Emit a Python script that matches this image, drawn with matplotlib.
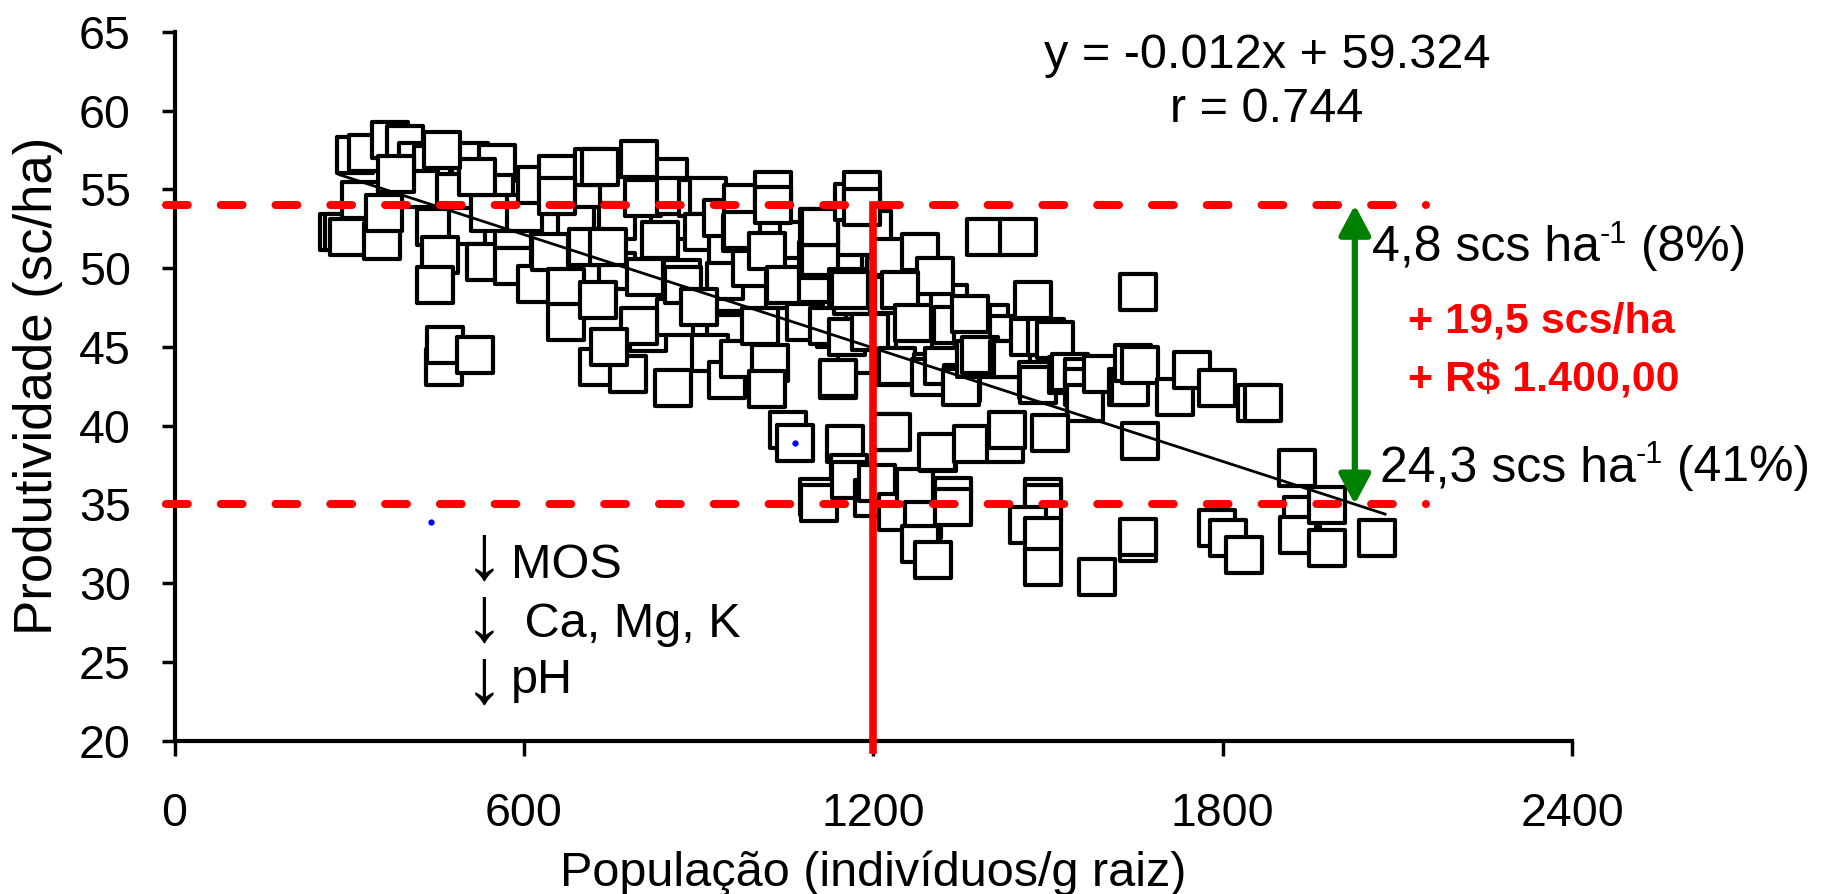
import matplotlib
matplotlib.use("Agg")
import matplotlib.pyplot as plt

plt.rcParams['font.family'] = ['Liberation Sans', 'DejaVu Sans']

# populacao (individuos/g raiz) e produtividade (sc/ha)
pop = [281, 290, 298, 356, 318, 310, 330, 370, 395, 416, 442, 507, 554, 421, 482, 550,
       447, 502, 456, 447, 533, 582, 582, 462, 465, 516,
       600, 690, 760, 620, 700, 760, 850, 540, 520, 460, 380, 360, 620, 700, 850,
       657, 719, 731, 797, 657, 805, 860, 897, 916, 645, 708, 745, 673, 673, 727,
       727, 779, 808, 834, 813, 860, 856, 871, 874, 908, 948, 945, 948, 945, 919,
       948, 969, 797, 746,
       940, 990, 1060, 1130, 1200, 1220, 1280, 1330, 1400, 1420, 1270, 1170, 900,
       1070, 1150, 1170,
       974, 972, 974, 1028, 1028, 1017, 1046, 1049, 1006, 1023, 1017, 1083, 1103,
       1103, 1108, 1105, 1108, 1134, 1123, 1140, 1140, 1155, 1163, 1160, 1166,
       1180, 1180, 1155, 1195,
       1232, 1280, 1306, 1234, 1246, 1269, 1335, 1369, 1366, 1234, 1241, 1300,
       1298, 1320, 1352, 1350, 1375, 1383, 1431, 1438, 1392, 1449, 1475, 1467,
       1496, 1512, 1481, 1483, 1533, 1538, 1561, 1561, 1563, 1593, 1636, 1641,
       1646, 1658, 1654, 1718, 1747, 1790, 1857, 1869,
       1054, 1066, 1152, 1158, 1229, 1232, 1105, 1106, 1160, 1200, 1206, 1240,
       1272, 1286, 1280, 1302, 1311, 1309, 1337, 1337, 1369, 1426, 1430, 1492,
       1492, 1466, 1492, 1492, 1504, 1658, 1584, 1655, 1655, 1790, 1809, 1836,
       1927, 1936, 1930, 1979, 1979, 2065]
prod = [52.3, 52.3, 52.0, 51.7, 54.3, 57.2, 57.3, 58.1, 57.9, 56.8, 56.6, 56.8, 56.7, 55.0, 54.85, 54.75,
        52.6, 52.7, 50.8, 48.9, 50.4, 52.4, 50.1, 43.7, 45.1, 44.5,
        53.5, 53.2, 53.0, 49.0, 49.5, 49.8, 53.0, 53.5, 55.8, 57.5, 56.0, 53.5, 55.3, 55.0, 55.8,
        56.0, 56.4, 56.4, 56.9, 54.6, 54.45, 54.6, 54.45, 54.6, 51.05, 51.35, 51.35, 48.8, 46.6, 48.0,
        43.7, 43.3, 49.4, 51.8, 45.9, 46.9, 42.4, 49.35, 48.9, 52.3, 50.95, 49.2, 46.1, 45.9, 44.6,
        42.9, 44.2, 46.3, 45.0,
        53.2, 50.0, 50.5, 50.0, 52.5, 49.5, 48.0, 47.8, 46.5, 45.8, 45.0, 44.5, 47.5,
        51.8, 50.8, 52.0,
        54.1, 52.2, 52.4, 54.95, 54.0, 51.1, 48.6, 48.9, 46.3, 44.0, 42.3, 46.6, 49.0,
        50.5, 50.7, 52.6, 52.6, 46.1, 46.3, 42.9, 43.0, 48.8, 48.2, 48.6, 54.2,
        54.95, 53.9, 45.65, 45.95,
        50.7, 51.0, 49.5, 48.3, 48.6, 46.5, 46.4, 46.3, 47.1, 43.7, 43.75, 43.4,
        43.1, 43.75, 42.7, 42.45, 44.2, 44.5, 44.2, 44.2, 52.0, 52.0, 48.0, 45.6,
        45.6, 45.4, 42.9, 42.6, 43.2, 43.4, 43.1, 42.45, 41.4, 43.3, 42.45, 42.45,
        44.0, 43.85, 48.5, 41.8, 43.5, 42.4, 41.4, 41.4,
        39.7, 38.9, 38.8, 37.0, 39.6, 39.6, 35.45, 35.1, 36.55, 35.4, 36.35, 34.5,
        36.1, 34.0, 32.5, 31.45, 38.25, 38.3, 35.5, 34.8, 38.8, 38.8, 39.7, 35.45,
        35.1, 33.7, 33.0, 31.0, 39.5, 39.0, 30.4, 32.55, 32.9, 33.5, 32.85, 31.8,
        37.3, 34.3, 33.05, 34.95, 32.2, 32.85]

# pontos azuis isolados
blue_x = [1066, 440]
blue_y = [38.9, 33.85]

# reta ajustada y = -0.012x + 59.324
coef_a = -0.012
coef_b = 59.324
fit_x = [283, 2079]

nivel_alto = 54
nivel_baixo = 35
limiar = 1200
seta_x = 2027

nutrientes = ['MOS', ' Ca, Mg, K', 'pH']
nutri_y = [31.1, 27.35, 23.8]

fig = plt.figure(figsize=(18.49, 8.94), dpi=100)
ax = fig.add_axes([0.0944, 0.1717, 0.7558, 0.7927])

ax.scatter(pop, prod, marker='s', s=680, facecolors='white', edgecolors='black',
           linewidths=3.0, zorder=2)
ax.plot(blue_x, blue_y, 'o', color='blue', ms=3.5, zorder=3)

fit_y = [coef_a * v + coef_b for v in fit_x]
ax.plot(fit_x, fit_y, color='black', lw=2.0, zorder=4)

for nivel in [nivel_alto, nivel_baixo]:
    ax.plot([-15, 2150], [nivel, nivel], color='red', lw=5.8, dashes=[2.7, 4.1],
            dash_capstyle='round', clip_on=False, zorder=5)
ax.plot([limiar, limiar], [nivel_alto, 19.4], color='red', lw=5.5, clip_on=False, zorder=5)

ax.annotate('', xy=(seta_x, nivel_alto), xytext=(seta_x, nivel_baixo),
            arrowprops=dict(arrowstyle='<|-|>,head_length=0.45,head_width=0.24',
                            mutation_scale=40, color='#008000', lw=4.5,
                            shrinkA=0, shrinkB=0), zorder=6)

ax.text(1876, 63.5, 'y = -0.012x + 59.324', fontsize=35, ha='center', va='center')
ax.text(1876, 60.05, 'r = 0.744', fontsize=35, ha='center', va='center')


def texto_expoente(x, y, base, resto):
    t1 = ax.text(x, y, base, fontsize=36, ha='left', va='center')
    t2 = ax.annotate('-1', xy=(1.0, 0.78), xycoords=t1, fontsize=22,
                     ha='left', va='center')
    ax.annotate(resto, xy=(1.0, 0.5), xycoords=(t2, t1), fontsize=36,
                ha='left', va='center')


texto_expoente(2056, 51.3, '4,8 scs ha', ' (8%)')
texto_expoente(2070, 37.3, '24,3 scs ha', ' (41%)')

ax.text(2118, 46.6, '+ 19,5 scs/ha', fontsize=31, fontweight='bold', color='red',
        ha='left', va='center')
ax.text(2118, 42.9, '+ R$ 1.400,00', fontsize=31, fontweight='bold', color='red',
        ha='left', va='center')

# setas "diminui" numa so caixa de texto, uma por linha
ax.text(498, nutri_y[1] + 0.3, '\n'.join(['↓'] * len(nutrientes)), fontsize=56,
        linespacing=0.81, ha='left', va='center')
for nome, ny in zip(nutrientes, nutri_y):
    ax.text(577, ny, nome, fontsize=35, ha='left', va='center')

ax.set_xlim(0, 2400)
ax.set_ylim(20, 65)
ax.set_xticks([0, 600, 1200, 1800, 2400])
ax.set_yticks(range(20, 66, 5))
ax.spines['top'].set_visible(False)
ax.spines['right'].set_visible(False)
ax.spines['left'].set_linewidth(3)
ax.spines['bottom'].set_linewidth(3)
ax.tick_params(axis='x', direction='out', length=11, width=2.5, labelsize=33.5, pad=26)
ax.tick_params(axis='y', direction='out', length=9.5, width=2.5, labelsize=33.5, pad=22)

ax.set_xlabel('População (indivíduos/g raiz)', fontsize=35, va='center')
ax.xaxis.set_label_coords(0.5, -0.187)
ax.set_ylabel('Produtividade (sc/ha)', fontsize=38, va='center')
ax.yaxis.set_label_coords(-0.098, 0.5)

fig.savefig('out.png', dpi=100)
